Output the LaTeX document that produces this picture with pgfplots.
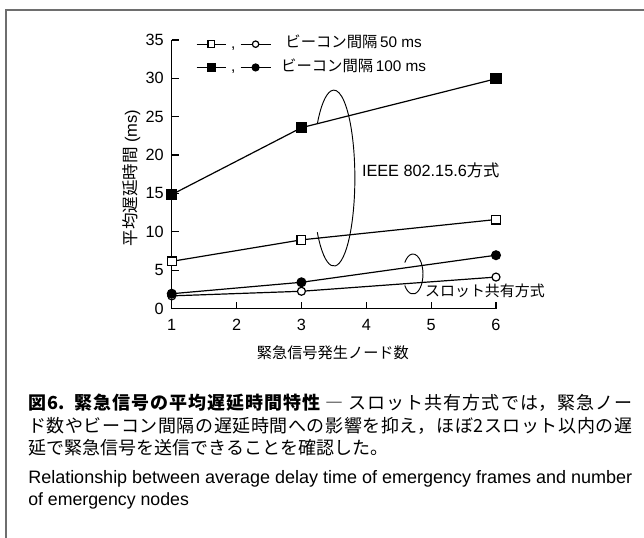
\documentclass[border=0pt]{standalone}
\usepackage{fontspec}
\setmainfont{Liberation Sans}
\newfontfamily\jp{Noto Sans CJK JP}
\usepackage{pgfplots}
\pgfplotsset{compat=1.18}
\definecolor{framegray}{RGB}{110,110,110}
\XeTeXlinebreaklocale "ja"
\XeTeXlinebreakskip=0pt plus 2pt

\begin{document}
\begin{tikzpicture}
\useasboundingbox (0pt,0pt) rectangle (483pt,-403.5pt);
\draw[line width=1.1pt, framegray] (4.5pt,-403.5pt) -- (4.5pt,-7.5pt) -- (483pt,-7.5pt);
\begin{axis}[
  at={(128.8pt,-231.4pt)}, anchor=south west,
  scale only axis, width=243.2pt, height=201.4pt,
  xmin=1, xmax=6, ymin=0, ymax=35,
  clip=false,
  axis x line=bottom, axis y line=left,
  axis line style={-, line width=0.9pt, black},
  xtick={1,2,3,4,5,6}, ytick={0,5,10,15,20,25,30,35},
  tick align=inside, major tick length=5.25pt,
  tick style={line width=0.9pt, black},
  ticklabel style={font=\fontsize{12.2}{14}\selectfont},
  /pgf/number format/assume math mode=true,
  xticklabel style={yshift=-4.5pt},
  yticklabel style={xshift=-2.5pt},
  xlabel={{\jp 緊急信号発生ノード数}},
  xlabel style={at={(axis description cs:0.497,-0.166)}, anchor=center, font=\fontsize{11.4}{13}\selectfont},
  ylabel={{\jp 平均遅延時間}\ (ms)},
  ylabel style={at={(axis description cs:-0.1235,0.486)}, anchor=center, font=\fontsize{12.4}{14}\selectfont},
  legend columns=1,
  legend style={at={(axis description cs:0.074,0.94)}, anchor=west, draw=none, fill=none,
    inner sep=0pt, row sep=6.5pt,
    font=\fontsize{11.5}{13}\selectfont,
    nodes={inner sep=0pt, text height=8pt, text depth=2.5pt},
    /tikz/every odd column/.append style={column sep=7.5pt}},
]
\addlegendimage{legend image code/.code={
  \draw[black, line width=0.9pt, mark repeat=2, mark phase=2, mark=square*, mark size=2.5pt, mark options={fill=white, solid}]
    plot coordinates {(0pt,0pt)(11pt,0pt)(22pt,0pt)};
  \node[inner sep=0pt, anchor=base, font=\fontsize{11.5}{13}\selectfont] at (27.5pt,-3.2pt) {,};
  \draw[black, line width=0.9pt, mark repeat=2, mark phase=2, mark=*, mark size=2.4pt, mark options={fill=white, solid}]
    plot coordinates {(33pt,0pt)(44.25pt,0pt)(55.5pt,0pt)};}}
\addlegendentry{{\jp ビーコン間隔}\,50 ms}
\addlegendimage{legend image code/.code={
  \draw[black, line width=0.9pt, mark repeat=2, mark phase=2, mark=square*, mark size=2.9pt, mark options={fill=black, solid}]
    plot coordinates {(0pt,0pt)(11pt,0pt)(22pt,0pt)};
  \node[inner sep=0pt, anchor=base, font=\fontsize{11.5}{13}\selectfont] at (27.5pt,-3.2pt) {,};
  \draw[black, line width=0.9pt, mark repeat=2, mark phase=2, mark=*, mark size=2.6pt, mark options={fill=black, solid}]
    plot coordinates {(33pt,0pt)(44.25pt,0pt)(55.5pt,0pt)};}}
\addlegendentry{{\jp ビーコン間隔}\,100 ms}

% 50 ms, slot sharing (open circle)
\addplot[forget plot, black, line width=0.9pt, mark=*, mark size=3.0pt, mark options={fill=white, solid}]
  coordinates {(1,1.65) (3,2.25) (6,4.1)};
% 100 ms, slot sharing (filled circle)
\addplot[forget plot, black, line width=0.9pt, mark=*, mark size=3.3pt, mark options={fill=black, solid}]
  coordinates {(1,1.93) (3,3.42) (6,6.95)};
% 50 ms, IEEE 802.15.6 (open square)
\addplot[forget plot, black, line width=0.9pt, mark=square*, mark size=3.3pt, mark options={fill=white, solid}]
  coordinates {(1,6.15) (3,8.95) (6,11.6)};
% 100 ms, IEEE 802.15.6 (filled square)
\addplot[forget plot, black, line width=0.9pt, mark=square*, mark size=3.7pt, mark options={fill=black, solid}]
  coordinates {(1,14.85) (3,23.57) (6,29.95)};

\draw[line width=0.7pt] (axis cs:3.5,17) ++(-142:15.75pt and 66pt)
  arc[start angle=-142, end angle=142, x radius=15.75pt, y radius=66pt];
\draw[line width=0.7pt] (axis cs:4.72,4.5) ++(-145:7.5pt and 15pt)
  arc[start angle=-145, end angle=145, x radius=7.5pt, y radius=15pt];
\node[anchor=west, inner sep=0pt, font=\fontsize{12.2}{14}\selectfont] at (axis cs:3.93,18.05) {IEEE 802.15.6{\jp 方式}};
\node[anchor=west, inner sep=0pt, font=\fontsize{11.2}{13}\selectfont] at (axis cs:4.905,2.28) {\jp スロット共有方式};
\end{axis}

\node[anchor=north west, inner sep=0pt, text width=453pt, align=justify,
  font=\jp\fontsize{13.5}{16.9}\selectfont] at (21pt,-295.5pt)
  {{\bfseries 図6.\ \ 緊急信号の平均遅延時間特性} ― スロット共有方式では，緊急ノー\linebreak
   ド数やビーコン間隔の遅延時間への影響を抑え，ほぼ2スロット以内の遅\linebreak
   延で緊急信号を送信できることを確認した。};
\node[anchor=north west, inner sep=0pt, font=\fontsize{13.3}{16.5}\selectfont] at (21pt,-353pt)
  {\resizebox{453pt}{!}{Relationship between average delay time of emergency frames and number}};
\node[anchor=north west, inner sep=0pt, font=\fontsize{13.3}{16.5}\selectfont] at (21pt,-369.5pt)
  {of emergency nodes};
\end{tikzpicture}
\end{document}
